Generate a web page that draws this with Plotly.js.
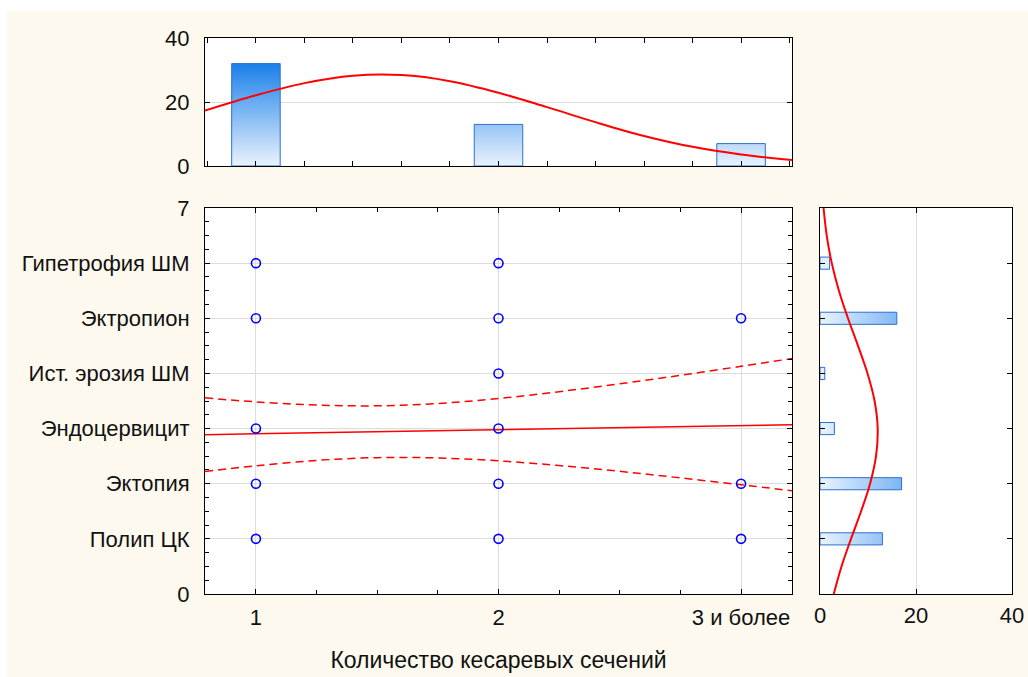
<!DOCTYPE html>
<html>
<head>
<meta charset="utf-8">
<script src="https://cdn.plot.ly/plotly-3.0.1.min.js"></script>
<style>html,body{margin:0;padding:0;background:#fff;}#chart{width:1028px;height:677px;}</style>
</head>
<body>
<div id="chart"></div>
<script>
// ---- data ----
const xLabels = ['1', '2', '3 и более'];
const xPos = [1, 2, 3];
const xCounts = [32, 13, 7];

const yLabels = ['Полип ЦК', 'Эктопия', 'Эндоцервицит', 'Ист. эрозия ШМ', 'Эктропион', 'Гипетрофия ШМ'];
const yPos = [1, 2, 3, 4, 5, 6];
const yCounts = [13, 17, 3, 1, 16, 2];

const ptsX = [1, 2, 1, 2, 3, 2, 1, 2, 1, 2, 3, 1, 2, 3];
const ptsY = [6, 6, 5, 5, 5, 4, 3, 3, 2, 2, 2, 1, 1, 1];

const fitX    = [0.79, 1.0, 1.25, 1.5, 1.75, 2.0, 2.25, 2.5, 2.75, 3.0, 3.21];
const fitY    = [2.889, 2.905, 2.924, 2.943, 2.961, 2.98, 2.999, 3.018, 3.036, 3.055, 3.071];
const ciUpper = [3.557, 3.484, 3.426, 3.413, 3.455, 3.545, 3.669, 3.812, 3.966, 4.129, 4.270];
const ciLower = [2.221, 2.326, 2.422, 2.473, 2.467, 2.415, 2.329, 2.224, 2.106, 1.981, 1.872];

const normTopX = [0.79, 1.0, 1.2, 1.4, 1.6, 1.8, 2.0, 2.2, 2.4, 2.6, 2.8, 3.0, 3.21];
const normTopY = [17.3, 22.1, 25.9, 28.2, 28.4, 26.5, 22.9, 18.4, 13.7, 9.4, 6.0, 3.6, 1.9];

const normRightY = [0, 0.5, 1, 1.5, 2, 2.5, 3, 3.5, 4, 4.5, 5, 5.5, 6, 6.5, 7];
const normRightX = [2.86, 4.48, 6.46, 8.56, 10.43, 11.67, 12.02, 11.37, 9.90, 7.92, 5.83, 3.94, 2.45, 1.40, 0.74];

// ---- styling ----
const FONT = 'Liberation Sans, Arial, sans-serif';
const CREAM = '#FEF9EE';
const GRID = '#DCDCDC';
const gradScale = [[0, '#EAF3FD'], [1, '#1A80EA']];

function vBars(pos, counts, hw) {
  const xs = [], ys = [];
  pos.forEach((p, i) => { xs.push(p - hw, p - hw, p + hw, p + hw, p - hw, null); ys.push(0, counts[i], counts[i], 0, 0, null); });
  return {xs, ys};
}
function hBars(pos, counts, hw) {
  const xs = [], ys = [];
  pos.forEach((p, i) => { ys.push(p - hw, p + hw, p + hw, p - hw, p - hw, null); xs.push(0, 0, counts[i], counts[i], 0, null); });
  return {xs, ys};
}

const topBars = vBars(xPos, xCounts, 0.1);
const rightBars = hBars(yPos, yCounts, 0.11);

const traces = [
  {type: 'scatter', mode: 'lines', x: topBars.xs, y: topBars.ys, xaxis: 'x3', yaxis: 'y3',
   fill: 'toself', connectgaps: false, line: {color: '#2E6FD4', width: 1},
   fillgradient: {type: 'vertical', colorscale: gradScale, start: 0, stop: 32},
   hoverinfo: 'skip', showlegend: false},
  {type: 'scatter', mode: 'lines', x: normTopX, y: normTopY, xaxis: 'x3', yaxis: 'y3',
   line: {color: '#FF0000', width: 2, shape: 'spline'}, showlegend: false},
  {type: 'scatter', mode: 'lines', x: rightBars.xs, y: rightBars.ys, xaxis: 'x2', yaxis: 'y2',
   fill: 'toself', connectgaps: false, line: {color: '#2E6FD4', width: 1},
   fillgradient: {type: 'horizontal', colorscale: gradScale, start: 0, stop: 32},
   hoverinfo: 'skip', showlegend: false},
  {type: 'scatter', mode: 'lines', x: normRightX, y: normRightY, xaxis: 'x2', yaxis: 'y2',
   line: {color: '#FF0000', width: 2, shape: 'spline'}, showlegend: false},
  {type: 'scatter', mode: 'lines', x: fitX, y: ciUpper, xaxis: 'x', yaxis: 'y',
   line: {color: '#FF0000', width: 1.5, dash: '8px,5px', shape: 'spline'}, showlegend: false},
  {type: 'scatter', mode: 'lines', x: fitX, y: ciLower, xaxis: 'x', yaxis: 'y',
   line: {color: '#FF0000', width: 1.5, dash: '8px,5px', shape: 'spline'}, showlegend: false},
  {type: 'scatter', mode: 'lines', x: fitX, y: fitY, xaxis: 'x', yaxis: 'y',
   line: {color: '#FF0000', width: 1.5}, showlegend: false},
  {type: 'scatter', mode: 'markers', x: ptsX, y: ptsY, xaxis: 'x', yaxis: 'y',
   marker: {symbol: 'circle-open', size: 9, color: '#0000FF', line: {width: 1.6, color: '#0000FF'}},
   showlegend: false}
];

const base = {
  showline: true, linecolor: '#000', linewidth: 1, mirror: 'allticks',
  ticks: 'inside', ticklen: 5, tickcolor: '#000', tickwidth: 1,
  zeroline: false, gridcolor: GRID, gridwidth: 1,
  tickfont: {family: FONT, size: 22, color: '#111'}, fixedrange: true
};

const mainXDom = [205 / 1028, 792 / 1028];
const rightXDom = [820 / 1028, 1012 / 1028];
const mainYDom = [1 - 594 / 677, 1 - 208 / 677];
const topYDom = [1 - 166 / 677, 1 - 38 / 677];

const layout = {
  width: 1028, height: 677,
  margin: {l: 0, r: 0, t: 0, b: 0},
  paper_bgcolor: CREAM, plot_bgcolor: '#FFFFFF',
  showlegend: false,
  shapes: [
    {type: 'rect', xref: 'paper', yref: 'paper', x0: 0, x1: 1, y0: 1 - 11 / 677, y1: 1,
     fillcolor: '#FFFFFF', line: {width: 0}, layer: 'above'},
    {type: 'rect', xref: 'paper', yref: 'paper', x0: 0, x1: 7 / 1028, y0: 0, y1: 1,
     fillcolor: '#FFFFFF', line: {width: 0}, layer: 'above'}
  ],
  xaxis: Object.assign({}, base, {
    domain: mainXDom, anchor: 'y', range: [0.79, 3.21],
    tickmode: 'array', tickvals: xPos, ticktext: xLabels, showgrid: true, ticklabelstandoff: 4,
    minor: {dtick: 0.25, tick0: 0, ticks: 'inside', ticklen: 4, tickcolor: '#000', showgrid: false},
    title: {text: 'Количество кесаревых сечений', font: {family: FONT, size: 23, color: '#111'}, standoff: 22}
  }),
  yaxis: Object.assign({}, base, {
    domain: mainYDom, anchor: 'x', range: [0, 7],
    tickmode: 'array', tickvals: [0].concat(yPos, [7]), ticktext: ['0'].concat(yLabels, ['7']),
    showgrid: true, ticklabelstandoff: 10,
    minor: {dtick: 0.25, tick0: 0, ticks: 'inside', ticklen: 4, tickcolor: '#000', showgrid: false}
  }),
  xaxis2: Object.assign({}, base, {
    domain: rightXDom, anchor: 'y2', range: [0, 40],
    tickmode: 'array', tickvals: [0, 20, 40], showgrid: true, ticklabelstandoff: 2
  }),
  yaxis2: Object.assign({}, base, {
    domain: mainYDom, anchor: 'x2', range: [0, 7],
    tickmode: 'array', tickvals: yPos, showticklabels: false, showgrid: false
  }),
  xaxis3: Object.assign({}, base, {
    domain: mainXDom, anchor: 'y3', range: [0.79, 3.21],
    tickmode: 'linear', tick0: 0, dtick: 0.2, showticklabels: false, showgrid: false
  }),
  yaxis3: Object.assign({}, base, {
    domain: topYDom, anchor: 'x3', range: [0, 40],
    tickmode: 'array', tickvals: [0, 20, 40], showgrid: true, ticklabelstandoff: 10
  })
};

Plotly.newPlot('chart', traces, layout, {displayModeBar: false, staticPlot: true});
</script>
</body>
</html>
